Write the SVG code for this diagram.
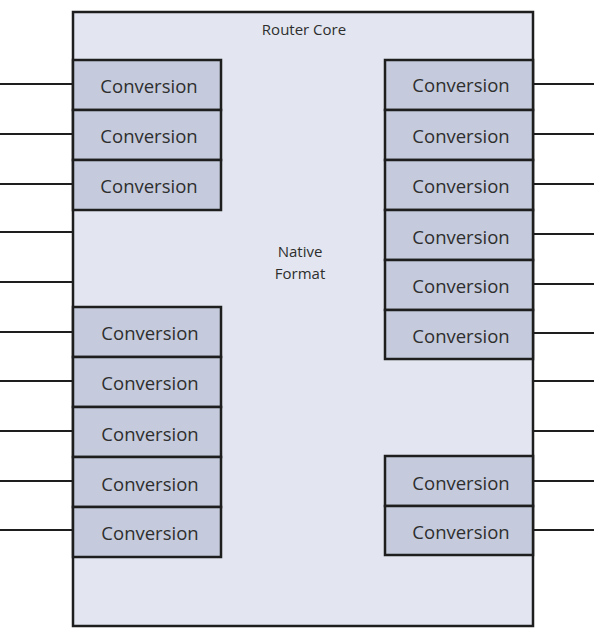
<svg xmlns="http://www.w3.org/2000/svg" width="594" height="640" viewBox="0 0 594 640">
<style>
.core{fill:#e3e6f0;stroke:#1e1e1e;stroke-width:2.5}
.conv{fill:#c5cbdd;stroke:#1e1e1e;stroke-width:2.5}
.lbl{font-family:"Open Sans","Noto Sans",sans-serif;font-size:18.5px;fill:#2e2e2e;text-anchor:middle;dominant-baseline:central}
.small{font-family:"Open Sans","Noto Sans",sans-serif;font-size:15px;fill:#2e2e2e;text-anchor:middle}
.wire{stroke:#1e1e1e;stroke-width:2;fill:none}
</style>
<rect width="594" height="640" fill="#fff"/>
<g id="core">
<rect class="core" x="73" y="12" width="460" height="614"/>
<text class="small" x="304" y="35">Router Core</text>
<text class="small" x="300" y="257">Native</text>
<text class="small" x="300" y="279">Format</text>
</g>
<g id="connectors">
<path class="wire" d="M0 84H73M0 134H73M0 184H73M0 232H73M0 282H73M0 332H73M0 381H73M0 431H73M0 481H73M0 530H73"/>
<path class="wire" d="M533 84H594M533 134H594M533 184H594M533 234H594M533 284H594M533 333H594M533 381H594M533 431H594M533 481H594M533 530H594"/>
</g>
<g id="L1"><rect class="conv" x="73" y="60" width="148" height="50"/><text class="lbl" x="149" y="85">Conversion</text></g>
<g id="L2"><rect class="conv" x="73" y="110" width="148" height="50"/><text class="lbl" x="149" y="135">Conversion</text></g>
<g id="L3"><rect class="conv" x="73" y="160" width="148" height="50"/><text class="lbl" x="149" y="185">Conversion</text></g>
<g id="L4"><rect class="conv" x="73" y="307" width="148" height="50"/><text class="lbl" x="150" y="332">Conversion</text></g>
<g id="L5"><rect class="conv" x="73" y="357" width="148" height="50"/><text class="lbl" x="150" y="382">Conversion</text></g>
<g id="L6"><rect class="conv" x="73" y="407" width="148" height="50"/><text class="lbl" x="150" y="433">Conversion</text></g>
<g id="L7"><rect class="conv" x="73" y="457" width="148" height="50"/><text class="lbl" x="150" y="483">Conversion</text></g>
<g id="L8"><rect class="conv" x="73" y="507" width="148" height="50"/><text class="lbl" x="150" y="532">Conversion</text></g>
<g id="R1"><rect class="conv" x="385" y="60" width="148" height="50"/><text class="lbl" x="461" y="84">Conversion</text></g>
<g id="R2"><rect class="conv" x="385" y="110" width="148" height="50"/><text class="lbl" x="461" y="135">Conversion</text></g>
<g id="R3"><rect class="conv" x="385" y="160" width="148" height="50"/><text class="lbl" x="461" y="185">Conversion</text></g>
<g id="R4"><rect class="conv" x="385" y="210" width="148" height="50"/><text class="lbl" x="461" y="236">Conversion</text></g>
<g id="R5"><rect class="conv" x="385" y="260" width="148" height="50"/><text class="lbl" x="461" y="285">Conversion</text></g>
<g id="R6"><rect class="conv" x="385" y="310" width="148" height="49"/><text class="lbl" x="461" y="335">Conversion</text></g>
<g id="R7"><rect class="conv" x="385" y="456" width="148" height="50"/><text class="lbl" x="461" y="482">Conversion</text></g>
<g id="R8"><rect class="conv" x="385" y="506" width="148" height="49"/><text class="lbl" x="461" y="531">Conversion</text></g>
</svg>
